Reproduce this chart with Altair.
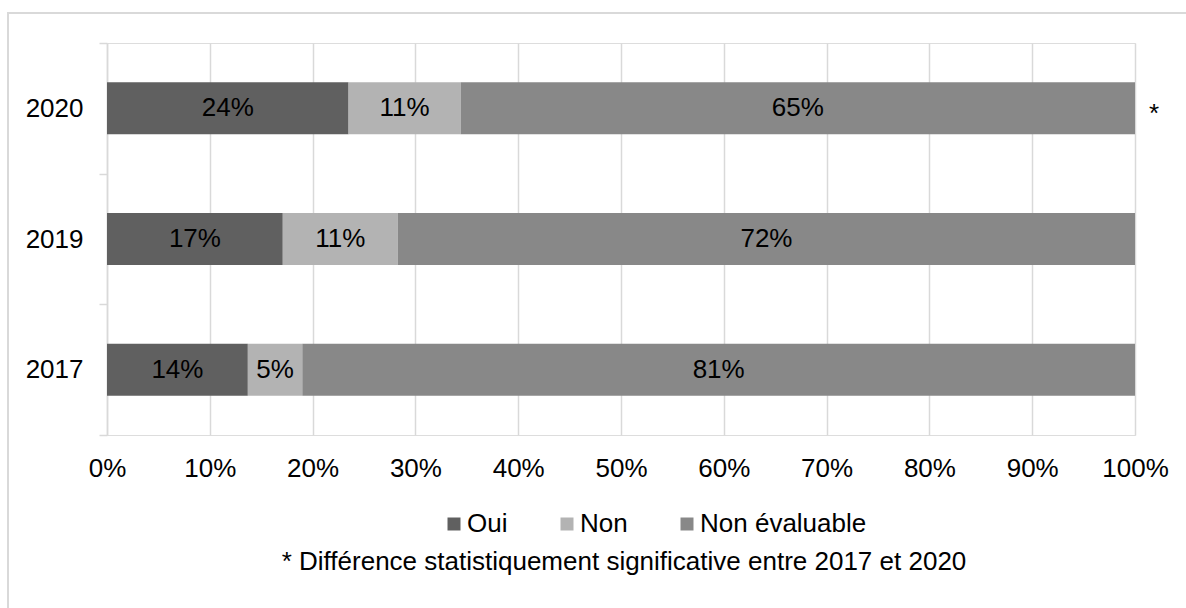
import altair as alt
import pandas as pd

# ---- data ----
years = ["2020", "2019", "2017"]
categories = ["Oui", "Non", "Non évaluable"]
oui = [23.5, 17.1, 13.7]
non = [10.9, 11.2, 5.3]
non_evaluable = [65.6, 71.7, 81.0]
labels_oui = ["24%", "17%", "14%"]
labels_non = ["11%", "11%", "5%"]
labels_non_evaluable = ["65%", "72%", "81%"]
significance = ["*", "", ""]
colors = ["#606060", "#B3B3B3", "#888888"]
x_ticks = [0, 10, 20, 30, 40, 50, 60, 70, 80, 90, 100]
note = "* Différence statistiquement significative entre 2017 et 2020"

FONT = "Liberation Sans"
FS = 26
GRID = "#D9D9D9"

rows = []
for i, y in enumerate(years):
    start = 0.0
    for j, (cat, vals, labs) in enumerate(zip(
            categories,
            [oui, non, non_evaluable],
            [labels_oui, labels_non, labels_non_evaluable])):
        v = vals[i]
        rows.append({"year": y, "cat": cat, "order": j, "start": start,
                     "end": start + v, "mid": start + v / 2, "label": labs[i]})
        start += v
df = pd.DataFrame(rows)

star_df = pd.DataFrame({"year": years, "pos": [100] * len(years), "mark": significance})
frame_df = pd.DataFrame({"k": [0]})
note_df = pd.DataFrame({"note": [note]})

y_enc = alt.Y(
    "year:N", sort=years, title=None,
    scale=alt.Scale(paddingInner=0, paddingOuter=0),
    axis=alt.Axis(domain=True, domainColor=GRID, domainWidth=1.5,
                  ticks=True, tickColor=GRID, tickSize=8, tickWidth=1.5,
                  tickBand="extent", grid=False,
                  labelFont=FONT, labelFontSize=FS, labelColor="#000000",
                  labelPadding=16),
)

x_scale = alt.Scale(domain=[0, 100], nice=False, zero=True)

frame = alt.Chart(frame_df).mark_rect(
    fillOpacity=0, stroke=GRID, strokeWidth=2
).encode(
    x=alt.value(-99), x2=alt.value(1200), y=alt.value(-30), y2=alt.value(700)
)

bars = alt.Chart(df).mark_bar(size=52).encode(
    x=alt.X("start:Q", scale=x_scale, title=None,
            axis=alt.Axis(values=x_ticks, labelExpr="datum.value + '%'",
                          grid=True, gridColor=GRID, gridWidth=1.5,
                          domain=False, ticks=False, labelFlush=False,
                          labelFont=FONT, labelFontSize=FS, labelColor="#000000",
                          labelPadding=20)),
    x2="end:Q",
    y=y_enc,
    color=alt.Color("cat:N", scale=alt.Scale(domain=categories, range=colors),
                    legend=alt.Legend(title=None, orient="none", direction="horizontal",
                                      columns=3, legendX=334, legendY=468,
                                      symbolType="square", symbolSize=169,
                                      symbolStrokeWidth=0, columnPadding=46,
                                      labelOffset=0, labelLimit=400, labelFont=FONT,
                                      labelFontSize=FS, labelColor="#000000",
                                      padding=0)),
    order=alt.Order("order:Q"),
)

texts = alt.Chart(df).mark_text(font=FONT, fontSize=FS, color="#000000",
                                baseline="middle", align="center").encode(
    x=alt.X("mid:Q", scale=x_scale),
    y=alt.Y("year:N", sort=years),
    text="label:N",
)

stars = alt.Chart(star_df).mark_text(font=FONT, fontSize=FS, color="#000000",
                                     baseline="middle", align="center", dx=19, dy=6).encode(
    x=alt.X("pos:Q", scale=x_scale),
    y=alt.Y("year:N", sort=years),
    text="mark:N",
)

caption = alt.Chart(note_df).mark_text(font=FONT, fontSize=FS, color="#000000",
                                       baseline="middle", align="center").encode(
    x=alt.value(517), y=alt.value(519), text="note:N"
)

chart = alt.layer(frame, bars, texts, stars, caption).properties(
    width=1028, height=392,
    autosize=alt.AutoSizeParams(type="none"),
    padding={"left": 107, "top": 43, "right": 51, "bottom": 173},
).configure_view(stroke=None).configure(background="#FFFFFF")

chart.save("out.html", embed_options={"renderer": "svg", "actions": False})
